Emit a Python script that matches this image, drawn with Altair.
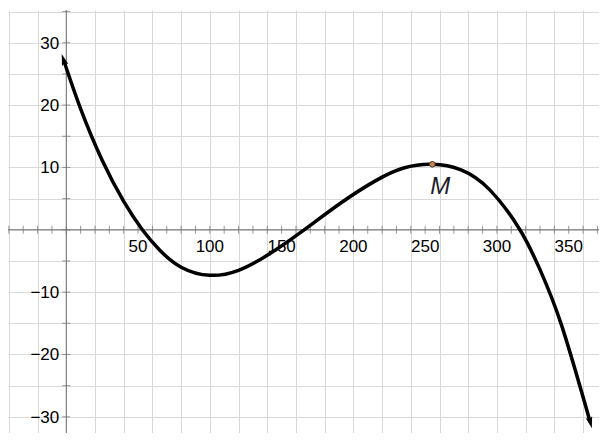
import altair as alt
import pandas as pd

# ---- data ----
curve_x = [-1.75, 10, 25, 40, 53, 65, 80, 100, 120, 140, 164, 190, 215, 235, 255,
           275, 295, 316, 330, 345, 364.9]
curve_y = [27.15, 19.4, 11.15, 4.55, 0, -3.25, -6.0, -7.3, -6.5, -4.1, -0.3, 4.1, 7.8, 9.9, 10.5,
           9.6, 6.4, 0, -6.4, -15.3, -30.8]

point_m = {"x": 255, "y": 10.5, "label": "M"}

x_grid = list(range(-40, 361, 20))
y_grid = list(range(-30, 36, 5))
x_ticks = list(range(-40, 371, 10))
y_ticks = list(range(-30, 36, 5))
x_label_vals = [50, 100, 150, 200, 250, 300, 350]
y_label_vals = [30, 20, 10, -10, -20, -30]

X_DOMAIN = [-40.6, 371.1]
Y_DOMAIN = [-32.6, 35.25]

def fmt(v):
    return ("\u2212" + str(abs(v))) if v < 0 else str(v)

xs = alt.Scale(domain=X_DOMAIN, nice=False, zero=False)
ys = alt.Scale(domain=Y_DOMAIN, nice=False, zero=False)
x_axis = alt.Axis(values=x_grid, grid=True, labels=False, ticks=False, domain=False,
                  title=None, gridColor="#d8d8d8", gridWidth=1)
y_axis = alt.Axis(values=y_grid, grid=True, labels=False, ticks=False, domain=False,
                  title=None, gridColor="#d8d8d8", gridWidth=1)

def X(f="x"):
    return alt.X(f + ":Q", scale=xs, axis=x_axis)

def Y(f="y"):
    return alt.Y(f + ":Q", scale=ys, axis=y_axis)

AXIS_COLOR = "#6e6e6e"
FONT = "Liberation Sans"

curve_df = pd.DataFrame({"x": curve_x, "y": curve_y})

x_axis_line = alt.Chart(pd.DataFrame({"y": [0]})).mark_rule(color=AXIS_COLOR, strokeWidth=1).encode(y=Y())
y_axis_line = alt.Chart(pd.DataFrame({"x": [0]})).mark_rule(color=AXIS_COLOR, strokeWidth=1).encode(x=X())

xt_df = pd.DataFrame({"x": x_ticks, "y": [0] * len(x_ticks)})
yt_df = pd.DataFrame({"x": [0] * len(y_ticks), "y": y_ticks})
x_tick_layer = alt.Chart(xt_df).mark_tick(orient="vertical", size=8, thickness=1, color=AXIS_COLOR).encode(
    x=X(), y=Y())
y_tick_layer = alt.Chart(yt_df).mark_tick(orient="horizontal", size=8, thickness=1, color=AXIS_COLOR).encode(
    x=X(), y=Y())

xl_df = pd.DataFrame({"x": x_label_vals, "y": [0] * len(x_label_vals), "t": [fmt(v) for v in x_label_vals]})
yl_df = pd.DataFrame({"x": [0] * len(y_label_vals), "y": y_label_vals, "t": [fmt(v) for v in y_label_vals]})
x_labels = alt.Chart(xl_df).mark_text(font=FONT, fontSize=17, color="#000000", align="center",
                                      baseline="alphabetic", dy=22).encode(x=X(), y=Y(), text="t:N")
y_labels = alt.Chart(yl_df).mark_text(font=FONT, fontSize=17, color="#000000", align="right",
                                      baseline="middle", dx=-7, dy=1).encode(x=X(), y=Y(), text="t:N")

curve = alt.Chart(curve_df).mark_line(color="black", strokeWidth=3.5, interpolate="natural",
                                      strokeCap="butt").encode(x=X(), y=Y())

arrow_df = pd.DataFrame({"x": [curve_x[0], curve_x[-1]], "y": [curve_y[0], curve_y[-1]],
                         "ang": [342, 165]})
ARROW = "M0,-1L0.5,0.7L0,0.35L-0.5,0.7Z"
arrows = alt.Chart(arrow_df).mark_point(shape=ARROW, filled=True, color="black", size=180, opacity=1).encode(
    x=X(), y=Y(), angle=alt.Angle("ang:Q", scale=None))

m_df = pd.DataFrame([point_m])
m_point = alt.Chart(m_df).mark_point(shape="circle", filled=True, fill="#c48a4e", stroke="#4a3520",
                                     strokeWidth=1, size=32, opacity=1).encode(x=X(), y=Y())
m_label = alt.Chart(m_df).mark_text(font=FONT, fontSize=24, fontStyle="italic", color="#1c1c28",
                                    align="center", baseline="alphabetic", dx=8, dy=30).encode(
    x=X(), y=Y(), text="label:N")

chart = alt.layer(x_axis_line, y_axis_line, x_tick_layer, y_tick_layer,
                  x_labels, y_labels, curve, arrows, m_point, m_label).properties(
    width=591, height=423,
    padding={"left": 0, "top": 2, "right": 0, "bottom": 0},
    autosize=alt.AutoSizeParams(type="none"),
    background="white",
).configure_view(stroke=None)

chart.save("out.html", embed_options={"renderer": "svg", "actions": False})
